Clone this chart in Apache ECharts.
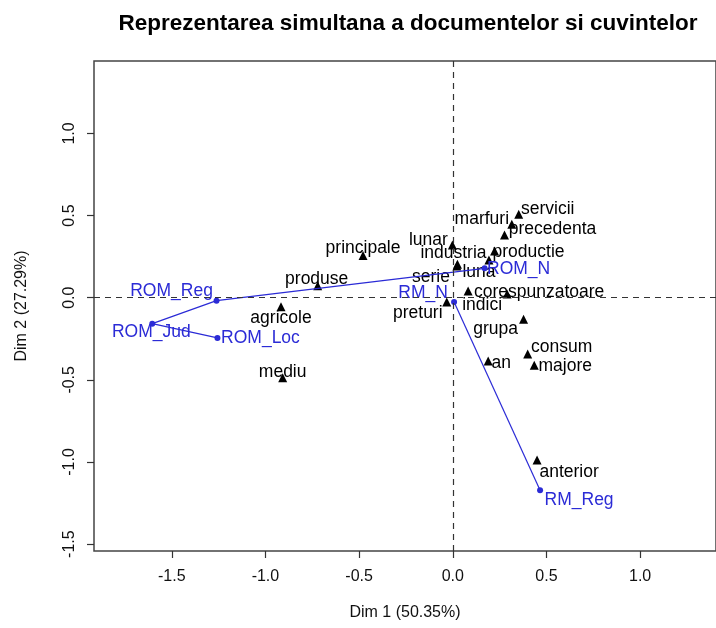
<!DOCTYPE html>
<html>
<head>
<meta charset="utf-8">
<script src="https://cdn.jsdelivr.net/npm/echarts@6/dist/echarts.min.js"></script>
<style>
html,body{margin:0;padding:0;background:#fff;}
#chart{width:716px;height:628px;}
</style>
</head>
<body>
<div id="chart"></div>
<script>
// cuvinte (randuri)
var words = ['principale','produse','agricole','mediu','lunar','industria','serie','luna','productie',
	'servicii','marfuri','precedenta','corespunzatoare','indici','preturi','grupa','consum','an','majore','anterior'];
var wordDim1 = [-0.479,-0.721,-0.917,-0.908,-0.002,0.025,0.022,0.193,0.223,
	0.352,0.315,0.276,0.082,0.290,-0.032,0.378,0.400,0.189,0.435,0.450];
var wordDim2 = [0.257,0.073,-0.055,-0.487,0.321,0.203,0.193,0.229,0.284,
	0.508,0.447,0.382,0.041,0.023,-0.026,-0.131,-0.343,-0.385,-0.411,-0.988];

// documente (coloane), doua grupuri unite prin linie
var docsA = ['ROM_N','ROM_Reg','ROM_Jud','ROM_Loc'];
var docsADim1 = [0.170,-1.261,-1.604,-1.256];
var docsADim2 = [0.179,-0.018,-0.158,-0.245];
var docsB = ['RM_N','RM_Reg'];
var docsBDim1 = [0.007,0.466];
var docsBDim2 = [-0.026,-1.172];

var ticksX = [-1.5,-1.0,-0.5,0.0,0.5,1.0];
var ticksY = [-1.5,-1.0,-0.5,0.0,0.5,1.0];

// pozitia etichetelor fata de punct (pixeli)
var wordLabelOffset = {
	principale:[0,-7], produse:[-1,-7], agricole:[0,11], mediu:[0,-6], lunar:[-24,-5],
	industria:[-4,-11], serie:[-26,11], luna:[-10,12], productie:[34,1], servicii:[29,-5],
	marfuri:[-30,-5], precedenta:[48,-6], corespunzatoare:[71,1], indici:[-25,11],
	preturi:[-29,11], grupa:[-28,10], consum:[34,-7], an:[13,2], majore:[31,1], anterior:[32,12]
};
var docLabelOffset = {
	ROM_N:[34,1], ROM_Reg:[-45,-9], ROM_Jud:[-1,9], ROM_Loc:[43,0], RM_N:[-31,-9], RM_Reg:[39,10]
};

var FONT = "'Liberation Sans', Arial, sans-serif";
var BLUE = '#2b2bd6';

function pts(names, xs, ys, offsets, color){
	var out = [];
	for (var i = 0; i < names.length; i++) {
		out.push({
			name: names[i],
			value: [xs[i], ys[i]],
			label: {
				show: true, position: 'inside', formatter: names[i],
				offset: offsets[names[i]], color: color,
				fontSize: 17.5, fontFamily: FONT, align: 'center', verticalAlign: 'middle'
			}
		});
	}
	return out;
}

var myChart = echarts.init(document.getElementById('chart'), null, {renderer:'canvas'});
var axisText = {fontSize: 16, fontFamily: FONT, color: '#111'};
var option = {
	animation: false,
	backgroundColor: '#fff',
	title: {
		text: 'Reprezentarea simultana a documentelor si cuvintelor',
		left: 403, top: 7, textAlign: 'center',
		textStyle: {fontSize: 22.5, fontWeight: 'bold', fontFamily: FONT, color: '#000'}
	},
	grid: {left: 94, right: -5, top: 61, bottom: 77, show: true, borderColor: '#444', borderWidth: 1.5},
	xAxis: {
		type: 'value', min: -1.915, max: 1.405,
		name: 'Dim 1 (50.35%)', nameLocation: 'middle', nameGap: 54,
		nameTextStyle: axisText,
		axisLine: {show: false, onZero: false},
		axisTick: {show: true, length: 7, customValues: ticksX, lineStyle: {color: '#333', width: 1.2}},
		axisLabel: Object.assign({customValues: ticksX, margin: 18, formatter: function(v){return v.toFixed(1);}}, axisText),
		splitLine: {show: false}
	},
	yAxis: {
		type: 'value', min: -1.542, max: 1.441,
		name: 'Dim 2 (27.29%)', nameLocation: 'middle', nameGap: 64, nameRotate: 90,
		nameTextStyle: axisText,
		axisLine: {show: false, onZero: false},
		axisTick: {show: true, length: 7, customValues: ticksY, lineStyle: {color: '#333', width: 1.2}},
		axisLabel: Object.assign({customValues: ticksY, margin: 16, rotate: 90, formatter: function(v){return v.toFixed(1);}}, axisText),
		splitLine: {show: false}
	},
	series: [
		{
			type: 'scatter', symbol: 'triangle', symbolSize: 9,
			itemStyle: {color: '#000', opacity: 1},
			data: pts(words, wordDim1, wordDim2, wordLabelOffset, '#000'),
			markLine: {
				silent: true, symbol: ['none','none'], label: {show: false},
				lineStyle: {color: '#333', type: [6,5], width: 1.2},
				data: [{xAxis: 0}, {yAxis: 0}]
			},
			z: 3
		},
		{
			type: 'line', symbol: 'circle', symbolSize: 6, showSymbol: true,
			lineStyle: {color: BLUE, width: 1.2}, itemStyle: {color: BLUE},
			data: pts(docsA, docsADim1, docsADim2, docLabelOffset, BLUE),
			z: 4
		},
		{
			type: 'line', symbol: 'circle', symbolSize: 6, showSymbol: true,
			lineStyle: {color: BLUE, width: 1.2}, itemStyle: {color: BLUE},
			data: pts(docsB, docsBDim1, docsBDim2, docLabelOffset, BLUE),
			z: 4
		}
	]
};
myChart.setOption(option);
</script>
</body>
</html>
